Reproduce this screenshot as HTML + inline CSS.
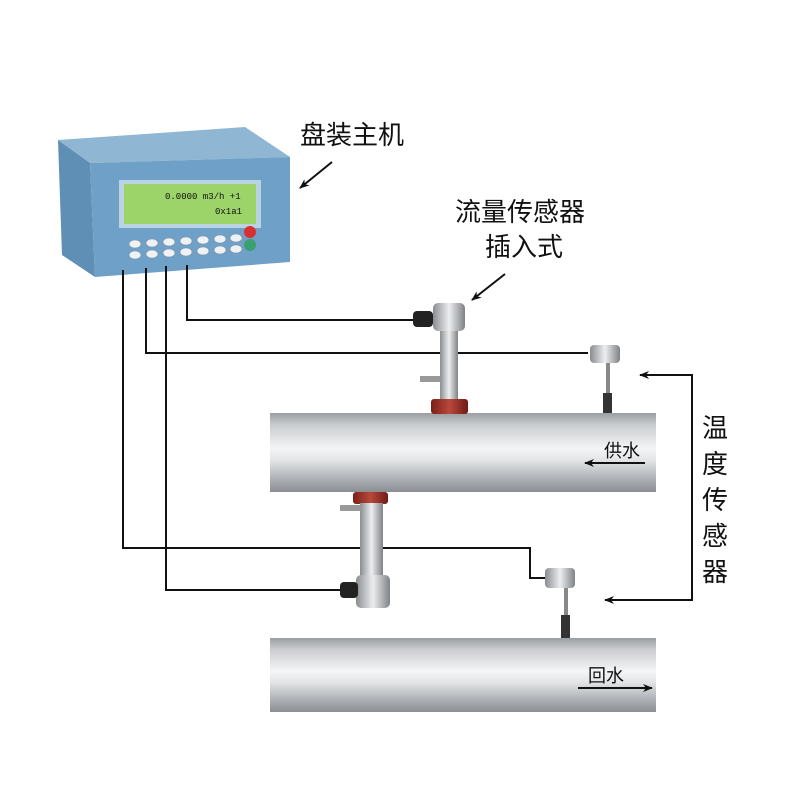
<!DOCTYPE html>
<html><head><meta charset="utf-8"><style>body{margin:0;background:#fff}svg{display:block}text{font-family:"Liberation Sans","Noto Sans CJK SC",sans-serif;fill:#111}</style></head><body>
<svg width="800" height="800" viewBox="0 0 800 800" xmlns="http://www.w3.org/2000/svg">
<defs>
<linearGradient id="pipe" x1="0" y1="0" x2="0" y2="1">
<stop offset="0" stop-color="#9a9ea2"/><stop offset="0.15" stop-color="#c9cccf"/><stop offset="0.45" stop-color="#f4f5f6"/><stop offset="0.6" stop-color="#e2e4e6"/><stop offset="0.85" stop-color="#a9adb1"/><stop offset="1" stop-color="#8b8f93"/></linearGradient>
<linearGradient id="metal" x1="0" y1="0" x2="1" y2="0">
<stop offset="0" stop-color="#8a8d90"/><stop offset="0.5" stop-color="#eceef0"/><stop offset="1" stop-color="#7f8285"/></linearGradient>
<linearGradient id="red" x1="0" y1="0" x2="1" y2="0"><stop offset="0" stop-color="#7a2018"/><stop offset="0.5" stop-color="#b8483c"/><stop offset="1" stop-color="#6e1c16"/></linearGradient>
<marker id="ah" markerWidth="10" markerHeight="8" refX="9" refY="4" orient="auto" markerUnits="userSpaceOnUse"><path d="M0,0 L10,4 L0,8 L3,4z" fill="#111"/></marker>
</defs>
<!-- instrument box -->
<polygon points="58,140 245,127 290,157 90,163" fill="#8fb6d2"/>
<polygon points="58,140 90,163 95,277 62,255" fill="#5f8fb5"/>
<polygon points="90,163 290,157 290,262 95,277" fill="#6fa1c8"/>
<rect x="119" y="180" width="142" height="48" fill="#b9d3e3"/>
<rect x="124" y="184" width="132" height="40" fill="#9cd46a"/>
<text x="165" y="199" font-size="9" style="font-family:'Liberation Mono',monospace">0.0000 m3/h +1</text>
<text x="215" y="214" font-size="9" style="font-family:'Liberation Mono',monospace">0x1a1</text>
<g fill="#eef2f5" stroke="#7d8fa0" stroke-width="0.6">
<ellipse cx="135" cy="244" rx="6" ry="4"/><ellipse cx="152" cy="243" rx="6" ry="4"/><ellipse cx="169" cy="242" rx="6" ry="4"/><ellipse cx="186" cy="241" rx="6" ry="4"/><ellipse cx="203" cy="240" rx="6" ry="4"/><ellipse cx="220" cy="239" rx="6" ry="4"/><ellipse cx="236" cy="238" rx="6" ry="4"/>
<ellipse cx="135" cy="255" rx="6" ry="4"/><ellipse cx="152" cy="254" rx="6" ry="4"/><ellipse cx="169" cy="253" rx="6" ry="4"/><ellipse cx="186" cy="252" rx="6" ry="4"/><ellipse cx="203" cy="251" rx="6" ry="4"/><ellipse cx="220" cy="250" rx="6" ry="4"/><ellipse cx="236" cy="249" rx="6" ry="4"/></g>
<circle cx="250" cy="232" r="6" fill="#d83030"/><circle cx="250" cy="245" r="6" fill="#3aa070"/>
<!-- wires -->
<g fill="none" stroke="#111" stroke-width="2">
<polyline points="187,265 187,320 415,320"/>
<polyline points="146,268 146,353 588,353"/>
<polyline points="123,270 123,548 530,548 530,578 545,578"/>
<polyline points="166,266 166,590 342,590"/>
</g>
<!-- pipes -->
<rect x="270" y="413" width="386" height="79" fill="url(#pipe)"/>
<rect x="270" y="638" width="386" height="74" fill="url(#pipe)"/>
<!-- upper flow sensor -->
<rect x="440" y="330" width="18" height="72" fill="url(#metal)"/>
<rect x="420" y="376" width="22" height="6" fill="#999"/>
<rect x="433" y="303" width="32" height="28" rx="5" fill="url(#metal)"/>
<rect x="413" y="311" width="20" height="16" rx="4" fill="#222"/>
<rect x="431" y="399" width="37" height="15" rx="3" fill="url(#red)"/>
<!-- lower flow sensor -->
<rect x="353" y="492" width="35" height="12" rx="3" fill="url(#red)"/>
<rect x="360" y="503" width="23" height="80" fill="url(#metal)"/>
<rect x="340" y="505" width="22" height="6" fill="#999"/>
<rect x="356" y="575" width="34" height="33" rx="5" fill="url(#metal)"/>
<rect x="340" y="582" width="18" height="16" rx="4" fill="#222"/>
<!-- temp sensors -->
<rect x="606" y="360" width="4" height="40" fill="#888"/><rect x="603" y="393" width="9" height="20" fill="#333"/>
<rect x="590" y="345" width="30" height="18" rx="4" fill="url(#metal)"/>
<rect x="564" y="585" width="4" height="32" fill="#888"/><rect x="561" y="615" width="9" height="23" fill="#333"/>
<rect x="545" y="568" width="30" height="20" rx="4" fill="url(#metal)"/>
<!-- labels -->
<text x="300" y="144" font-size="26">盘装主机</text>
<line x1="332" y1="162" x2="300" y2="188" stroke="#111" stroke-width="2" marker-end="url(#ah)"/>
<text x="455" y="221" font-size="26">流量传感器</text>
<text x="485" y="256" font-size="26">插入式</text>
<line x1="505" y1="274" x2="472" y2="300" stroke="#111" stroke-width="2" marker-end="url(#ah)"/>
<g font-size="26"><text x="702" y="437">温</text><text x="702" y="473">度</text><text x="702" y="509">传</text><text x="702" y="545">感</text><text x="702" y="581">器</text></g>
<polyline points="642,375 692,375 692,600 607,600" fill="none" stroke="#111" stroke-width="2"/>
<line x1="660" y1="375" x2="640" y2="375" stroke="#111" stroke-width="2" marker-end="url(#ah)"/>
<line x1="630" y1="600" x2="605" y2="600" stroke="#111" stroke-width="2" marker-end="url(#ah)"/>
<text x="604" y="457" font-size="18">供水</text>
<line x1="645" y1="463" x2="585" y2="463" stroke="#111" stroke-width="2" marker-end="url(#ah)"/>
<text x="588" y="682" font-size="18">回水</text>
<line x1="578" y1="688" x2="652" y2="688" stroke="#111" stroke-width="2" marker-end="url(#ah)"/>
</svg>
</body></html>
